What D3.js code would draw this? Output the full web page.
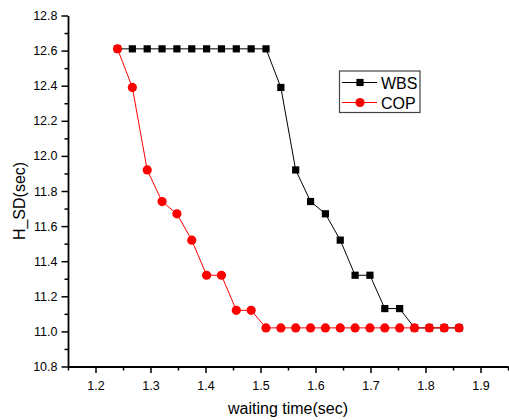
<!DOCTYPE html>
<html>
<head>
<meta charset="utf-8">
<script src="https://cdn.jsdelivr.net/npm/d3@7/dist/d3.min.js"></script>
<style>
  html, body { margin: 0; padding: 0; background: #fff; }
  svg { display: block; }
  text { font-family: Arial, "Liberation Sans", sans-serif; }
</style>
</head>
<body>
<svg id="chart" width="509" height="420"></svg>
<script>
// ---- data ----
const waitingTime = [1.240, 1.267, 1.294, 1.321, 1.348, 1.375, 1.402, 1.429, 1.456, 1.483,
                     1.510, 1.537, 1.564, 1.591, 1.618, 1.645, 1.672, 1.699, 1.726, 1.753,
                     1.780, 1.807, 1.834, 1.861];
const wbs = [12.61, 12.61, 12.61, 12.61, 12.61, 12.61, 12.61, 12.61, 12.61, 12.61,
             12.61, 12.39, 11.92, 11.74, 11.67, 11.52, 11.32, 11.32, 11.13, 11.13,
             11.02, 11.02, 11.02, 11.02];
const cop = [12.61, 12.39, 11.92, 11.74, 11.67, 11.52, 11.32, 11.32, 11.12, 11.12,
             11.02, 11.02, 11.02, 11.02, 11.02, 11.02, 11.02, 11.02, 11.02, 11.02,
             11.02, 11.02, 11.02, 11.02];
const xTicks = [1.2, 1.3, 1.4, 1.5, 1.6, 1.7, 1.8, 1.9];
const xMinorTicks = [1.15, 1.25, 1.35, 1.45, 1.55, 1.65, 1.75, 1.85, 1.95];
const yTicks = [10.8, 11.0, 11.2, 11.4, 11.6, 11.8, 12.0, 12.2, 12.4, 12.6, 12.8];
const yMinorTicks = [10.9, 11.1, 11.3, 11.5, 11.7, 11.9, 12.1, 12.3, 12.5, 12.7];
const seriesNames = ["WBS", "COP"];

// ---- layout ----
const svg = d3.select("#chart");
const mLeft = 68, mRight = 508, mTop = 15.5, mBottom = 366.5;
const x = d3.scaleLinear().domain([1.15, 1.95]).range([mLeft, mRight]);
const y = d3.scaleLinear().domain([10.8, 12.8]).range([mBottom, mTop]);

// minor ticks
svg.append("g").attr("transform", `translate(0,${mBottom})`)
  .call(d3.axisBottom(x).tickValues(xMinorTicks).tickSize(4).tickFormat(""))
  .call(g => g.select(".domain").remove())
  .call(g => g.selectAll("line").attr("stroke", "#000").attr("stroke-width", 1.5));
svg.append("g").attr("transform", `translate(${mLeft},0)`)
  .call(d3.axisLeft(y).tickValues(yMinorTicks).tickSize(3.5).tickFormat(""))
  .call(g => g.select(".domain").remove())
  .call(g => g.selectAll("line").attr("stroke", "#000").attr("stroke-width", 1.5));

// major axes
const xAxis = svg.append("g").attr("transform", `translate(0,${mBottom})`)
  .call(d3.axisBottom(x).tickValues(xTicks).tickSize(6.5).tickPadding(8).tickSizeOuter(0)
        .tickFormat(d3.format(".1f")));
const yAxis = svg.append("g").attr("transform", `translate(${mLeft},0)`)
  .call(d3.axisLeft(y).tickValues(yTicks).tickSize(6.5).tickPadding(4).tickSizeOuter(0)
        .tickFormat(d3.format(".1f")));
[xAxis, yAxis].forEach(g => {
  g.select(".domain").attr("stroke", "#000").attr("stroke-width", 1.8);
  g.selectAll(".tick line").attr("stroke", "#000").attr("stroke-width", 1.5);
  g.selectAll(".tick text").attr("fill", "#000").style("font-size", "12.5px")
    .style("font-family", 'Arial, "Liberation Sans", sans-serif');
});

// axis titles
svg.append("text").attr("x", 288).attr("y", 414).attr("text-anchor", "middle")
  .style("font-size", "16px").attr("fill", "#000").text("waiting time(sec)");
svg.append("text").attr("transform", "translate(25,201) rotate(-90)").attr("text-anchor", "middle")
  .style("font-size", "16px").attr("fill", "#000").text("H_SD(sec)");

// series
const line = d3.line().x(d => x(d[0])).y(d => y(d[1]));
const wbsData = waitingTime.map((t, i) => [t, wbs[i]]);
const copData = waitingTime.map((t, i) => [t, cop[i]]);

svg.append("path").datum(wbsData).attr("d", line)
  .attr("fill", "none").attr("stroke", "#000").attr("stroke-width", 1);
svg.append("g").selectAll("rect").data(wbsData).join("rect")
  .attr("x", d => x(d[0]) - 3.6).attr("y", d => y(d[1]) - 3.6)
  .attr("width", 7.2).attr("height", 7.2).attr("fill", "#000");

svg.append("path").datum(copData).attr("d", line)
  .attr("fill", "none").attr("stroke", "#ff0000").attr("stroke-width", 1);
svg.append("g").selectAll("circle").data(copData).join("circle")
  .attr("cx", d => x(d[0])).attr("cy", d => y(d[1])).attr("r", 4.6).attr("fill", "#ff0000");

// legend
const lg = svg.append("g");
lg.append("rect").attr("x", 339.5).attr("y", 71).attr("width", 80.5).attr("height", 41.5)
  .attr("fill", "#fff").attr("stroke", "#444").attr("stroke-width", 1.2);
const rows = [{ name: seriesNames[0], color: "#000", sym: "square", yy: 82.5 },
              { name: seriesNames[1], color: "#ff0000", sym: "circle", yy: 102.5 }];
rows.forEach(r => {
  lg.append("line").attr("x1", 342).attr("x2", 377).attr("y1", r.yy).attr("y2", r.yy)
    .attr("stroke", r.color).attr("stroke-width", 1);
  if (r.sym === "square") {
    lg.append("rect").attr("x", 360 - 3.6).attr("y", r.yy - 3.6).attr("width", 7.2).attr("height", 7.2).attr("fill", r.color);
  } else {
    lg.append("circle").attr("cx", 360).attr("cy", r.yy).attr("r", 4.6).attr("fill", r.color);
  }
  lg.append("text").attr("x", 381).attr("y", r.yy + 6).style("font-size", "16px")
    .attr("fill", "#000").text(r.name);
});
</script>
</body>
</html>
